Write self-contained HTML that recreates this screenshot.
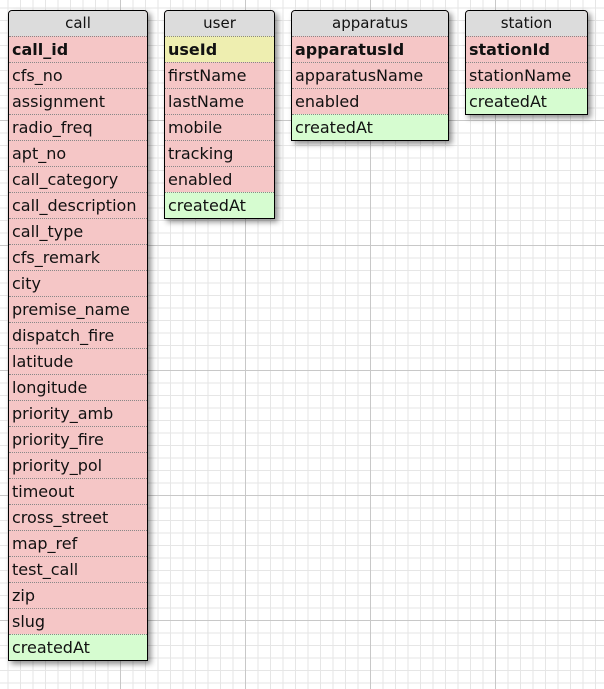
<!DOCTYPE html>
<html><head><style>
body{margin:0;width:604px;height:689px;overflow:hidden;background:#fff;
background-image:linear-gradient(#c8c8c8 1px,transparent 1px),linear-gradient(90deg,#c8c8c8 1px,transparent 1px),linear-gradient(#e6e6e6 1px,transparent 1px),linear-gradient(90deg,#e6e6e6 1px,transparent 1px);
background-size:125px 125px,125px 125px,12.5px 12.5px,12.5px 12.5px;background-position:-5px -5px,-5px -5px,-5px -5px,-5px -5px;
font-family:"DejaVu Sans","Liberation Sans",sans-serif;font-size:16px;color:#111;position:relative}
.t{position:absolute;top:10px;border:1px solid #000;border-radius:4px 4px 0 0;box-shadow:3px 3px 6px rgba(0,0,0,.45);background:#f5c6c6}
.t div{height:25px;line-height:25px;padding-left:3px;border-top:1px dotted #888;white-space:nowrap}
.t .h{background:#dcdcdc;text-align:center;border-top:none;padding:0;border-radius:3px 3px 0 0;font-size:15px}
.t .k{font-weight:bold}
.t .y{background:#eeeeb0}
.t .g{background:#d6fcd0}
</style></head><body>
<div class="t" style="left:8px;width:138px"><div class="h">call</div><div class="k">call_id</div><div>cfs_no</div><div>assignment</div><div>radio_freq</div><div>apt_no</div><div>call_category</div><div>call_description</div><div>call_type</div><div>cfs_remark</div><div>city</div><div>premise_name</div><div>dispatch_fire</div><div>latitude</div><div>longitude</div><div>priority_amb</div><div>priority_fire</div><div>priority_pol</div><div>timeout</div><div>cross_street</div><div>map_ref</div><div>test_call</div><div>zip</div><div>slug</div><div class="g">createdAt</div></div>
<div class="t" style="left:164px;width:109px"><div class="h">user</div><div class="k y">useId</div><div>firstName</div><div>lastName</div><div>mobile</div><div>tracking</div><div>enabled</div><div class="g">createdAt</div></div>
<div class="t" style="left:291px;width:156px"><div class="h">apparatus</div><div class="k">apparatusId</div><div>apparatusName</div><div>enabled</div><div class="g">createdAt</div></div>
<div class="t" style="left:465px;width:121px"><div class="h">station</div><div class="k">stationId</div><div>stationName</div><div class="g">createdAt</div></div>
</body></html>
